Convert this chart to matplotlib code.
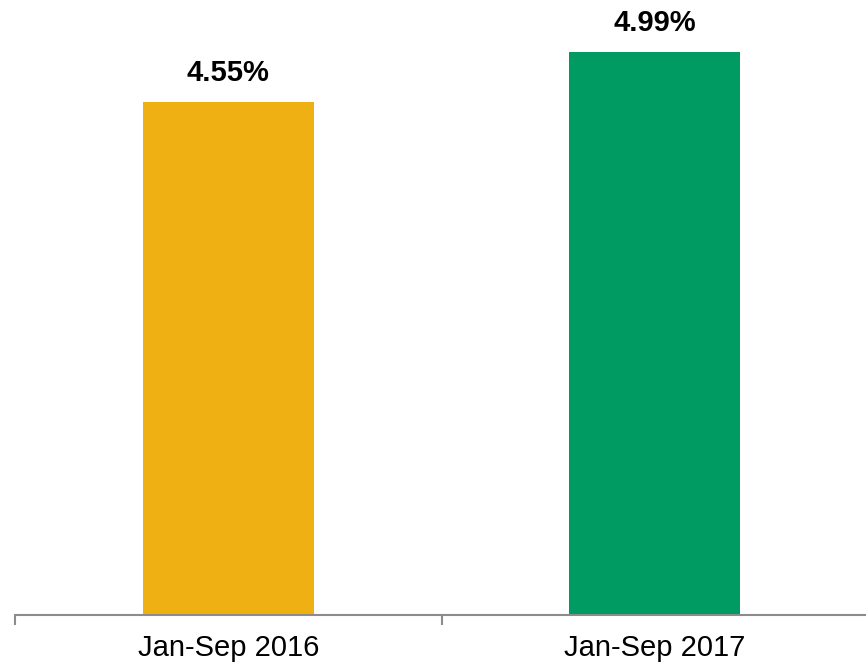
import matplotlib
matplotlib.use("Agg")
import matplotlib.pyplot as plt

categories = ["Jan-Sep 2016", "Jan-Sep 2017"]
values = [4.55, 4.99]
labels = ["4.55%", "4.99%"]
colors = ["#EEB013", "#009B62"]

plt.rcParams['font.family'] = ['Liberation Sans', 'DejaVu Sans']

fig = plt.figure(figsize=(8.66, 6.66), dpi=100)
W, H = 866, 666
ax = fig.add_axes([15 / W, (H - 615) / H, 853 / W, 615 / H])
x = list(range(len(categories)))
ax.bar(x, values, width=0.4, color=colors)
ax.set_xlim(-0.5, len(categories) - 0.5)
ax.set_ylim(0, 615 / 112.75)

for xi, v, lab in zip(x, values, labels):
    ax.annotate(lab, (xi, v), xytext=(0, 11), textcoords="offset points",
                ha="center", va="bottom", fontsize=21, fontweight="bold")

for s in ["top", "right", "left"]:
    ax.spines[s].set_visible(False)
ax.spines["bottom"].set_color("#8C8C8C")
ax.spines["bottom"].set_linewidth(1.5)
ax.set_yticks([])
ax.set_xticks(x)
ax.set_xticklabels(categories, fontsize=21)
ax.tick_params(axis="x", which="major", length=0, pad=14)
ax.set_xticks([-0.5, 0.5, 1.5], minor=True)
ax.tick_params(axis="x", which="minor", length=7, width=1.5, color="#8C8C8C")

fig.savefig("out.png", dpi=100)
